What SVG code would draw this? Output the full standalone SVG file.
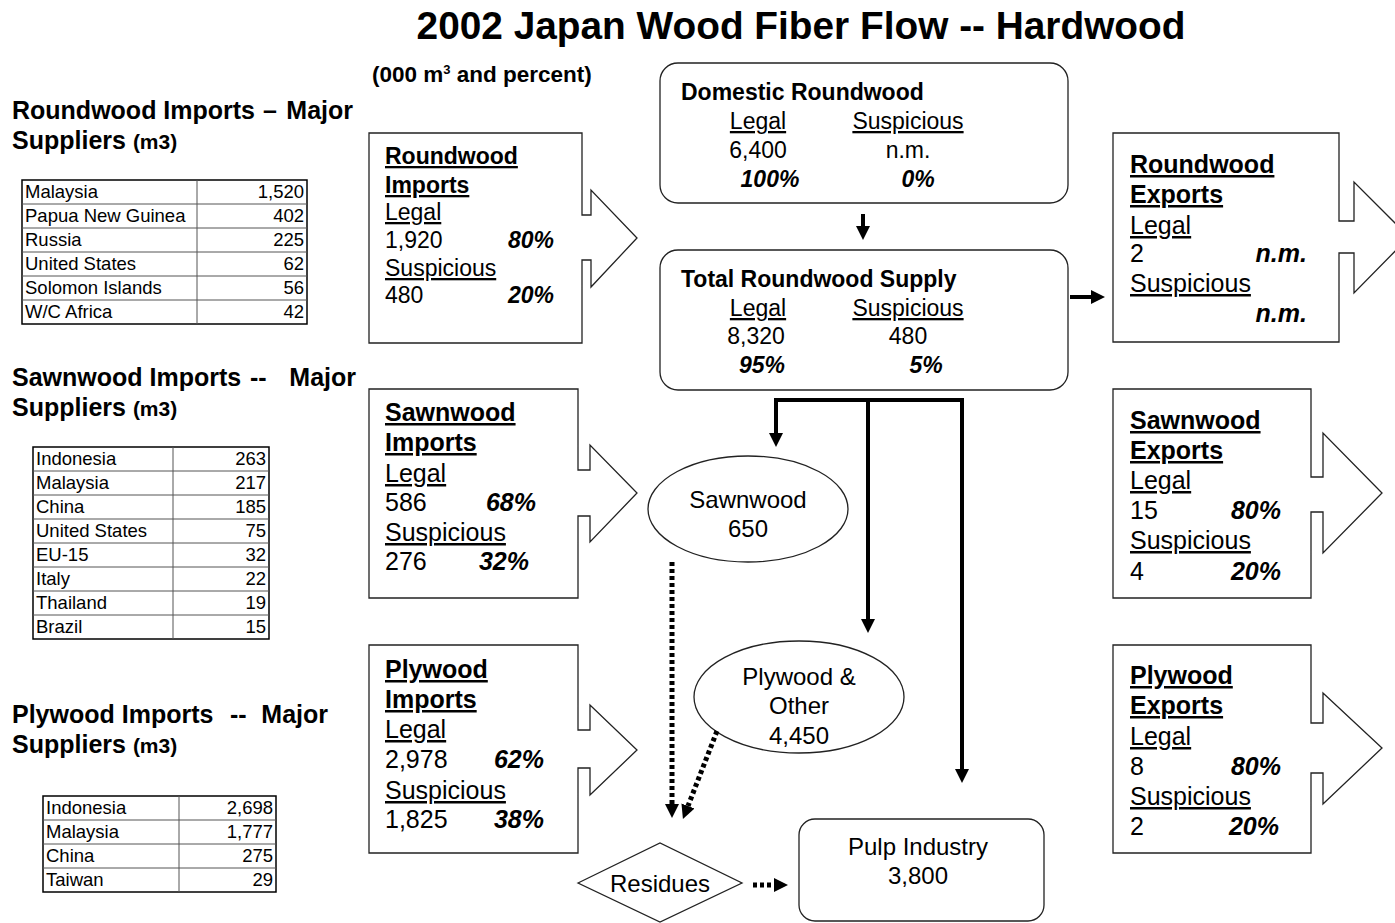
<svg xmlns="http://www.w3.org/2000/svg" width="1395" height="923" viewBox="0 0 1395 923">
<defs>
<style>
text{font-family:"Liberation Sans",Arial,sans-serif;fill:#000}
.b{font-weight:bold}
.bi{font-weight:bold;font-style:italic}
.u{text-decoration:underline}
.shape{fill:#fff;stroke:#222;stroke-width:1.3}
.tbl{fill:#fff;stroke:#000;stroke-width:1.5}
.grid{stroke:#555;stroke-width:1}
.solid{fill:none;stroke:#000;stroke-width:4}
.dot{fill:none;stroke:#000;stroke-width:5;stroke-dasharray:4 3}
.c{text-anchor:middle}
.r{text-anchor:end}
.t19{font-size:18.5px}
.hd{font-weight:bold;font-size:25px}
</style>
<marker id="ah" markerUnits="userSpaceOnUse" markerWidth="14" markerHeight="14" refX="0" refY="7" orient="auto" viewBox="0 0 14 14">
<path d="M0,0 L14,7 L0,14 Z" fill="#000"/>
</marker>
</defs>
<rect width="1395" height="923" fill="#fff"/>

<text x="801" y="39" class="b c" font-size="38.8">2002 Japan Wood Fiber Flow -- Hardwood</text>
<text x="372" y="82" class="b" font-size="22.5">(000 m<tspan dy="-8" font-size="13">3</tspan><tspan dy="8"> and percent)</tspan></text>

<g id="roundwood-suppliers">
<text x="12" y="119" class="hd">Roundwood Imports</text>
<text x="263" y="119" class="hd">–</text>
<text x="353" y="119" class="hd r">Major</text>
<text x="12" y="149" class="hd">Suppliers <tspan font-size="21">(m3)</tspan></text>
<rect x="22" y="180" width="285" height="144" class="tbl"/>
<path class="grid" d="M197,180V324M22,204H307M22,228H307M22,252H307M22,276H307M22,300H307"/>
<g class="t19">
<text x="25" y="198">Malaysia</text><text x="304" y="198" class="r">1,520</text>
<text x="25" y="222">Papua New Guinea</text><text x="304" y="222" class="r">402</text>
<text x="25" y="246">Russia</text><text x="304" y="246" class="r">225</text>
<text x="25" y="270">United States</text><text x="304" y="270" class="r">62</text>
<text x="25" y="294">Solomon Islands</text><text x="304" y="294" class="r">56</text>
<text x="25" y="318">W/C Africa</text><text x="304" y="318" class="r">42</text>
</g>
</g>

<g id="sawnwood-suppliers">
<text x="12" y="386" class="hd">Sawnwood Imports</text>
<text x="250" y="386" class="hd">--</text>
<text x="356" y="386" class="hd r">Major</text>
<text x="12" y="416" class="hd">Suppliers <tspan font-size="21">(m3)</tspan></text>
<rect x="33" y="447" width="236" height="192" class="tbl"/>
<path class="grid" d="M173,447V639M33,471H269M33,495H269M33,519H269M33,543H269M33,567H269M33,591H269M33,615H269"/>
<g class="t19">
<text x="36" y="465">Indonesia</text><text x="266" y="465" class="r">263</text>
<text x="36" y="489">Malaysia</text><text x="266" y="489" class="r">217</text>
<text x="36" y="513">China</text><text x="266" y="513" class="r">185</text>
<text x="36" y="537">United States</text><text x="266" y="537" class="r">75</text>
<text x="36" y="561">EU-15</text><text x="266" y="561" class="r">32</text>
<text x="36" y="585">Italy</text><text x="266" y="585" class="r">22</text>
<text x="36" y="609">Thailand</text><text x="266" y="609" class="r">19</text>
<text x="36" y="633">Brazil</text><text x="266" y="633" class="r">15</text>
</g>
</g>

<g id="plywood-suppliers">
<text x="12" y="723" class="hd">Plywood Imports</text>
<text x="230" y="723" class="hd">--</text>
<text x="328" y="723" class="hd r">Major</text>
<text x="12" y="753" class="hd">Suppliers <tspan font-size="21">(m3)</tspan></text>
<rect x="43" y="796" width="233" height="96" class="tbl"/>
<path class="grid" d="M179,796V892M43,820H276M43,844H276M43,868H276"/>
<g class="t19">
<text x="46" y="814">Indonesia</text><text x="273" y="814" class="r">2,698</text>
<text x="46" y="838">Malaysia</text><text x="273" y="838" class="r">1,777</text>
<text x="46" y="862">China</text><text x="273" y="862" class="r">275</text>
<text x="46" y="886">Taiwan</text><text x="273" y="886" class="r">29</text>
</g>
</g>

<g id="roundwood-imports" font-size="23">
<path class="shape" d="M369,133H582V215H591V190L637,238L591,287V260H582V343H369Z"/>
<text x="385" y="164" class="b u">Roundwood</text>
<text x="385" y="193" class="b u">Imports</text>
<text x="385" y="220" class="u">Legal</text>
<text x="385" y="248">1,920</text><text x="554" y="248" class="bi r">80%</text>
<text x="385" y="276" class="u">Suspicious</text>
<text x="385" y="303">480</text><text x="554" y="303" class="bi r">20%</text>
</g>

<g id="sawnwood-imports" font-size="25">
<path class="shape" d="M369,389H578V470H590V445L637,493L590,542V516H578V598H369Z"/>
<text x="385" y="421" class="b u">Sawnwood</text>
<text x="385" y="451" class="b u">Imports</text>
<text x="385" y="482" class="u">Legal</text>
<text x="385" y="511">586</text><text x="536" y="511" class="bi r">68%</text>
<text x="385" y="541" class="u">Suspicious</text>
<text x="385" y="570">276</text><text x="529" y="570" class="bi r">32%</text>
</g>

<g id="plywood-imports" font-size="25">
<path class="shape" d="M369,645H578V730H590V705L637,750L590,795V768H578V853H369Z"/>
<text x="385" y="678" class="b u">Plywood</text>
<text x="385" y="708" class="b u">Imports</text>
<text x="385" y="738" class="u">Legal</text>
<text x="385" y="768">2,978</text><text x="544" y="768" class="bi r">62%</text>
<text x="385" y="799" class="u">Suspicious</text>
<text x="385" y="828">1,825</text><text x="544" y="828" class="bi r">38%</text>
</g>

<g id="domestic-roundwood" font-size="23">
<rect x="660" y="63" width="408" height="140" rx="18" class="shape"/>
<text x="681" y="100" class="b">Domestic Roundwood</text>
<text x="758" y="129" class="c u">Legal</text><text x="908" y="129" class="c u">Suspicious</text>
<text x="758" y="158" class="c">6,400</text><text x="908" y="158" class="c">n.m.</text>
<text x="770" y="187" class="bi c">100%</text><text x="918" y="187" class="bi c">0%</text>
</g>

<g id="total-roundwood-supply" font-size="23">
<rect x="660" y="250" width="408" height="140" rx="18" class="shape"/>
<text x="681" y="287" class="b">Total Roundwood Supply</text>
<text x="758" y="316" class="c u">Legal</text><text x="908" y="316" class="c u">Suspicious</text>
<text x="756" y="344" class="c">8,320</text><text x="908" y="344" class="c">480</text>
<text x="762" y="373" class="bi c">95%</text><text x="926" y="373" class="bi c">5%</text>
</g>

<g id="roundwood-exports" font-size="25">
<path class="shape" d="M1113,133H1339V221H1354V182L1409,237L1354,293V253H1339V342H1113Z"/>
<text x="1130" y="173" class="b u">Roundwood</text>
<text x="1130" y="203" class="b u">Exports</text>
<text x="1130" y="234" class="u">Legal</text>
<text x="1130" y="262">2</text><text x="1307" y="262" class="bi r">n.m.</text>
<text x="1130" y="292" class="u">Suspicious</text>
<text x="1307" y="322" class="bi r">n.m.</text>
</g>

<g id="sawnwood-exports" font-size="25">
<path class="shape" d="M1113,389H1311V477H1323V433L1382,493L1323,553V512H1311V598H1113Z"/>
<text x="1130" y="429" class="b u">Sawnwood</text>
<text x="1130" y="459" class="b u">Exports</text>
<text x="1130" y="489" class="u">Legal</text>
<text x="1130" y="519">15</text><text x="1281" y="519" class="bi r">80%</text>
<text x="1130" y="549" class="u">Suspicious</text>
<text x="1130" y="580">4</text><text x="1281" y="580" class="bi r">20%</text>
</g>

<g id="plywood-exports" font-size="25">
<path class="shape" d="M1113,645H1311V723H1323V693L1382,748L1323,804V773H1311V853H1113Z"/>
<text x="1130" y="684" class="b u">Plywood</text>
<text x="1130" y="714" class="b u">Exports</text>
<text x="1130" y="745" class="u">Legal</text>
<text x="1130" y="775">8</text><text x="1281" y="775" class="bi r">80%</text>
<text x="1130" y="805" class="u">Suspicious</text>
<text x="1130" y="835">2</text><text x="1279" y="835" class="bi r">20%</text>
</g>

<g id="sawnwood" font-size="24">
<ellipse cx="748" cy="509" rx="100" ry="53" class="shape"/>
<text x="748" y="508" class="c">Sawnwood</text>
<text x="748" y="537" class="c">650</text>
</g>

<g id="plywood-other" font-size="24">
<ellipse cx="799" cy="697" rx="105" ry="56" class="shape"/>
<text x="799" y="685" class="c">Plywood &amp;</text>
<text x="799" y="714" class="c">Other</text>
<text x="799" y="744" class="c">4,450</text>
</g>

<g id="residues" font-size="24">
<path class="shape" d="M578,883L660,843L742,883L660,922Z"/>
<text x="660" y="892" class="c">Residues</text>
</g>

<g id="pulp-industry" font-size="24">
<rect x="799" y="819" width="245" height="102" rx="16" class="shape"/>
<text x="918" y="855" class="c">Pulp Industry</text>
<text x="918" y="884" class="c">3,800</text>
</g>

<g id="connectors">
<path class="solid" d="M863,214V226" marker-end="url(#ah)"/>
<path class="solid" d="M1070,297H1091" marker-end="url(#ah)"/>
<path class="solid" d="M776,400V433" marker-end="url(#ah)"/>
<path class="solid" d="M774,400H962V769" marker-end="url(#ah)"/>
<path class="solid" d="M868,400V619" marker-end="url(#ah)"/>
<path class="dot" d="M672,562V804" marker-end="url(#ah)"/>
<path class="dot" d="M717,731L688,806" marker-end="url(#ah)"/>
<path class="dot" d="M753,885H774" marker-end="url(#ah)"/>
</g>
</svg>
